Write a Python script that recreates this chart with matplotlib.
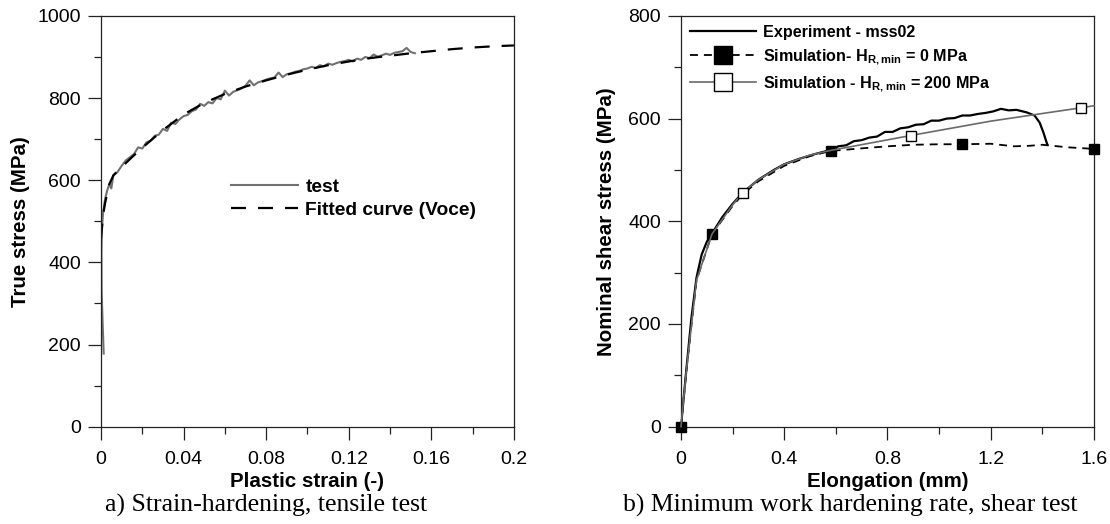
import matplotlib
matplotlib.use("Agg")
import matplotlib.pyplot as plt
from matplotlib.ticker import MultipleLocator, FuncFormatter

plt.rcParams["font.family"] = ["Liberation Sans", "DejaVu Sans"]
plt.rcParams["mathtext.default"] = "regular"

# left panel: tensile test
test_strain = [0.0013, 0.0008, 0.0003, 0.0002, 0.0004, 0.001, 0.002, 0.003, 0.004, 0.005,
               0.006, 0.008, 0.010, 0.012, 0.014, 0.016, 0.018, 0.020, 0.022, 0.024,
               0.026, 0.028, 0.030, 0.032, 0.034, 0.036, 0.038, 0.040, 0.042, 0.044,
               0.046, 0.048, 0.050, 0.052, 0.054, 0.056, 0.058, 0.060, 0.062, 0.064,
               0.066, 0.068, 0.070, 0.072, 0.074, 0.076, 0.078, 0.080, 0.082, 0.084,
               0.086, 0.088, 0.090, 0.092, 0.094, 0.096, 0.098, 0.100, 0.102, 0.104,
               0.106, 0.108, 0.110, 0.112, 0.114, 0.116, 0.118, 0.120, 0.122, 0.124,
               0.126, 0.128, 0.130, 0.132, 0.134, 0.136, 0.138, 0.140, 0.142, 0.144,
               0.146, 0.148, 0.150, 0.152]
test_stress = [178, 250, 330, 420, 480, 520, 555, 575, 590, 580,
               612, 620, 635, 648, 656, 664, 680, 677, 692, 696,
               708, 711, 725, 720, 740, 737, 748, 756, 759, 768,
               772, 786, 781, 790, 787, 800, 797, 818, 806, 815,
               819, 823, 830, 843, 831, 838, 841, 845, 848, 850,
               862, 851, 858, 860, 864, 866, 870, 872, 876, 873,
               880, 877, 884, 881, 885, 888, 890, 893, 889, 896,
               893, 900, 897, 906, 901, 904, 908, 905, 910, 912,
               914, 922, 912, 909]

fit_strain = [0, 0.001, 0.002, 0.004, 0.006, 0.01, 0.015, 0.02, 0.03, 0.04, 0.05, 0.06,
              0.07, 0.08, 0.09, 0.10, 0.11, 0.12, 0.13, 0.14, 0.15, 0.16, 0.17, 0.18,
              0.19, 0.2]
fit_stress = [458, 515, 545, 590, 612, 632, 656, 679, 722, 760, 788, 810,
              828, 843, 857, 869, 880, 889, 897, 903, 909, 914, 919, 923,
              926, 928]

# right panel: shear test
exp_elong = [0, 0.02, 0.04, 0.06, 0.08, 0.10, 0.12, 0.16, 0.20, 0.24, 0.30, 0.36,
             0.40, 0.46, 0.52, 0.58, 0.61, 0.64, 0.67, 0.70, 0.73, 0.76, 0.79, 0.82,
             0.85, 0.88, 0.91, 0.94, 0.97, 1.00, 1.03, 1.06, 1.09, 1.12, 1.15, 1.18,
             1.21, 1.24, 1.27, 1.30, 1.34, 1.37, 1.39, 1.405, 1.415, 1.42]
exp_stress = [0, 107, 210, 290, 335, 360, 376, 408, 434, 456, 481, 500,
              511, 522, 531, 539, 546, 548, 556, 558, 563, 565, 574, 574,
              581, 583, 588, 589, 596, 596, 600, 601, 606, 606, 609, 611,
              614, 619, 616, 617, 612, 606, 592, 572, 556, 549]

sim0_elong = [0, 0.02, 0.06, 0.12, 0.20, 0.24, 0.30, 0.40, 0.50, 0.58, 0.70,
              0.80, 0.90, 1.00, 1.09, 1.20, 1.29, 1.35, 1.40, 1.50, 1.60]
sim0_stress = [0, 105, 285, 375, 430, 453, 478, 508, 527, 537, 542,
               546, 549, 550, 550, 551, 546, 547, 549, 544, 541]
sim0_marks = [0, 3, 9, 14, 20]

sim200_elong = [0, 0.02, 0.06, 0.12, 0.20, 0.24, 0.30, 0.40, 0.50, 0.58, 0.89,
                1.20, 1.55, 1.60]
sim200_stress = [0, 105, 285, 375, 432, 456, 481, 511, 529, 538, 567,
                 595, 621, 625]
sim200_marks = [5, 10, 12]


def fmt(v, p):
    return "0" if abs(v) < 1e-9 else "%g" % round(v, 2)


fig = plt.figure(figsize=(11.1, 5.24), dpi=100)
ax1 = fig.add_axes([0.091, 0.1857, 0.372, 0.784])
ax2 = fig.add_axes([0.6135, 0.1857, 0.372, 0.784])

ax1.plot(test_strain, test_stress, color="#707070", lw=1.5, label="test")
ax1.plot(fit_strain, fit_stress, color="black", lw=1.6,
         linestyle=(0, (6.75, 5.4)), label="Fitted curve (Voce)")
ax1.set_xlim(0, 0.2)
ax1.set_ylim(0, 1000)
ax1.xaxis.set_major_locator(MultipleLocator(0.04))
ax1.xaxis.set_minor_locator(MultipleLocator(0.02))
ax1.yaxis.set_major_locator(MultipleLocator(200))
ax1.yaxis.set_minor_locator(MultipleLocator(100))
ax1.xaxis.set_major_formatter(FuncFormatter(fmt))
ax1.set_xlabel("Plastic strain (-)", fontsize=14.8, fontweight="bold")
ax1.set_ylabel("True stress (MPa)", fontsize=14.8, fontweight="bold")
ax1.legend(loc="upper left", bbox_to_anchor=(0.315, 0.605), frameon=False,
           borderaxespad=0, borderpad=0, handlelength=3.5, handletextpad=0.37,
           labelspacing=0.32, prop={"size": 13.8, "weight": "bold"})

ax2.plot(exp_elong, exp_stress, color="black", lw=1.6, label="Experiment - mss02")
ax2.plot(sim0_elong, sim0_stress, color="black", lw=1.3, linestyle=(0, (4.4, 3.3)),
         marker="s", markersize=7, markerfacecolor="black", markeredgecolor="black",
         markevery=sim0_marks, clip_on=False, zorder=3,
         label="Simulation- H$_{R,min}$ = 0 MPa")
ax2.plot(sim200_elong, sim200_stress, color="#6a6a6a", lw=1.2,
         marker="s", markersize=7, markerfacecolor="white", markeredgecolor="black",
         markeredgewidth=1.0, markevery=sim200_marks, clip_on=False, zorder=3,
         label="Simulation - H$_{R,min}$ = 200 MPa")
ax2.set_xlim(0, 1.6)
ax2.set_ylim(0, 800)
ax2.xaxis.set_major_locator(MultipleLocator(0.4))
ax2.xaxis.set_minor_locator(MultipleLocator(0.2))
ax2.yaxis.set_major_locator(MultipleLocator(200))
ax2.yaxis.set_minor_locator(MultipleLocator(100))
ax2.xaxis.set_major_formatter(FuncFormatter(fmt))
ax2.set_xlabel("Elongation (mm)", fontsize=14.8, fontweight="bold")
ax2.set_ylabel("Nominal shear stress (MPa)", fontsize=14.8, fontweight="bold")
ax2.legend(loc="upper left", bbox_to_anchor=(0.022, 0.978), frameon=False,
           borderaxespad=0, borderpad=0, handlelength=4.1, handletextpad=0.45,
           labelspacing=0.45, markerscale=1.8,
           prop={"size": 11.6, "weight": "bold"})

for ax in (ax1, ax2):
    for s in ax.spines.values():
        s.set_linewidth(0.9)
        s.set_color("#222222")
    ax.tick_params(which="major", direction="out", length=9.4, width=0.9,
                   labelsize=14, pad=5, color="#222222")
    ax.tick_params(which="minor", direction="out", length=4.7, width=0.9,
                   color="#222222")
    ax.tick_params(axis="x", which="major", pad=8)
    ax.xaxis.set_label_coords(0.5, -0.11)

ax1.yaxis.set_label_coords(-0.172, 0.5)
ax2.yaxis.set_label_coords(-0.158, 0.5)

fig.text(0.2396, 0.023, "a) Strain-hardening, tensile test", ha="center",
         va="baseline", fontsize=18.5, family="Liberation Serif")
fig.text(0.766, 0.023, "b) Minimum work hardening rate, shear test", ha="center",
         va="baseline", fontsize=18.5, family="Liberation Serif")

fig.savefig("out.png", dpi=100)
